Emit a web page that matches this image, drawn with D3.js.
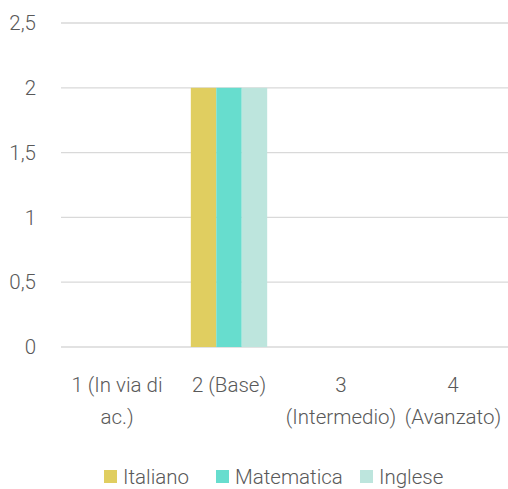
<!DOCTYPE html>
<html><head><meta charset="utf-8">
<script src="https://cdn.jsdelivr.net/npm/d3@7"></script>
<style>html,body{margin:0;padding:0;background:#fff;}</style>
</head><body>
<svg id="c" width="508" height="489"></svg>
<script>
const categories = ["1 (In via di ac.)", "2 (Base)", "3 (Intermedio)", "4 (Avanzato)"];
const categoryLines = [["1 (In via di", "ac.)"], ["2 (Base)"], ["3", "(Intermedio)"], ["4", "(Avanzato)"]];
const seriesNames = ["Italiano", "Matematica", "Inglese"];
const italiano = [0, 2, 0, 0];
const matematica = [0, 2, 0, 0];
const inglese = [0, 2, 0, 0];
const yTicks = [0, 0.5, 1, 1.5, 2, 2.5];
const colors = ["#E0CE60", "#67DDCE", "#BDE5DD"];

const seriesValues = [italiano, matematica, inglese];
const svg = d3.select("#c");
const font = "Roboto, 'Noto Sans', sans-serif";
const textColor = "#595959";
const fs = 20.5;

const x = d3.scaleBand().domain(categories).range([61, 509]).padding(0);
const x1 = d3.scaleBand().domain(seriesNames).range([0, x.bandwidth()]).paddingInner(0).paddingOuter(0.7);
const y = d3.scaleLinear().domain([0, 2.5]).range([347, 23]);

// gridlines
svg.append("g").selectAll("line").data(yTicks).join("line")
  .attr("x1", 61).attr("x2", 508)
  .attr("y1", d => y(d)).attr("y2", d => y(d))
  .attr("stroke", "#D9D9D9").attr("stroke-width", 1.3);

// y labels
const fmt = d => d3.format("")(d).replace(".", ",");
svg.append("g").selectAll("text").data(yTicks).join("text")
  .attr("x", 36).attr("y", d => y(d)).attr("dy", "0.35em")
  .attr("text-anchor", "end")
  .attr("font-family", font).attr("font-size", fs).attr("font-weight", 300)
  .attr("fill", textColor).text(fmt);

// bars
categories.forEach((c, i) => {
  seriesNames.forEach((s, j) => {
    const v = seriesValues[j][i];
    if (v > 0) {
      svg.append("rect")
        .attr("x", x(c) + x1(s)).attr("width", x1.bandwidth())
        .attr("y", y(v)).attr("height", y(0) - y(v))
        .attr("fill", colors[j]);
    }
  });
});

// x labels
categories.forEach((c, i) => {
  const cx = x(c) + x.bandwidth() / 2;
  const t = svg.append("text")
    .attr("x", cx).attr("y", 392)
    .attr("text-anchor", "middle")
    .attr("font-family", font).attr("font-size", fs).attr("font-weight", 300)
    .attr("fill", textColor);
  categoryLines[i].forEach((l, k) => {
    t.append("tspan").attr("x", cx).attr("dy", k === 0 ? 0 : 32).text(l);
  });
});

// legend
const legendX = [104, 216, 360];
const lg = svg.append("g");
seriesNames.forEach((s, j) => {
  lg.append("rect").attr("x", legendX[j]).attr("y", 470).attr("width", 13).attr("height", 13).attr("fill", colors[j]);
  lg.append("text").attr("x", legendX[j] + 19).attr("y", 484)
    .attr("font-family", font).attr("font-size", fs).attr("font-weight", 300)
    .attr("fill", textColor).text(s);
});
</script>
</body></html>
